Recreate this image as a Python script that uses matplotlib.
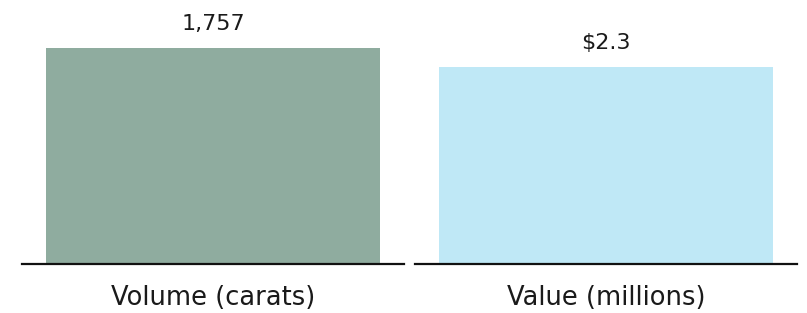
import matplotlib
matplotlib.use("Agg")
import matplotlib.pyplot as plt

categories = ["Volume (carats)", "Value (millions)"]
values = [1757, 2.3]
value_labels = ["1,757", "$2.3"]
colors = ["#8FAC9F", "#BFE8F6"]
ymax = [2066, 2.966]

plt.rcParams['font.family'] = ['DejaVu Sans']
fig = plt.figure(figsize=(8.07, 3.13), dpi=100)
W, H = 807, 313
bottom = (H - 264) / H
top = (H - 10) / H
lefts = [22, 415]
for i in range(2):
    ax = fig.add_axes([lefts[i] / W, bottom, 382 / W, top - bottom])
    ax.bar([0], [values[i]], width=0.872, color=colors[i])
    ax.set_xlim(-0.5, 0.5)
    ax.set_ylim(0, ymax[i])
    for s in ["top", "right", "left"]:
        ax.spines[s].set_visible(False)
    ax.spines["bottom"].set_linewidth(1.6)
    ax.spines["bottom"].set_color("#111111")
    ax.set_yticks([])
    ax.set_xticks([0])
    ax.set_xticklabels([categories[i]], fontsize=18.5, color="#1a1a1a")
    ax.tick_params(axis="x", length=0, pad=15)
    ax.annotate(value_labels[i], (0, values[i]), xytext=(0, 10), textcoords="offset points",
                ha="center", va="bottom", fontsize=16, color="#1a1a1a")

fig.savefig("out.png", dpi=100)
